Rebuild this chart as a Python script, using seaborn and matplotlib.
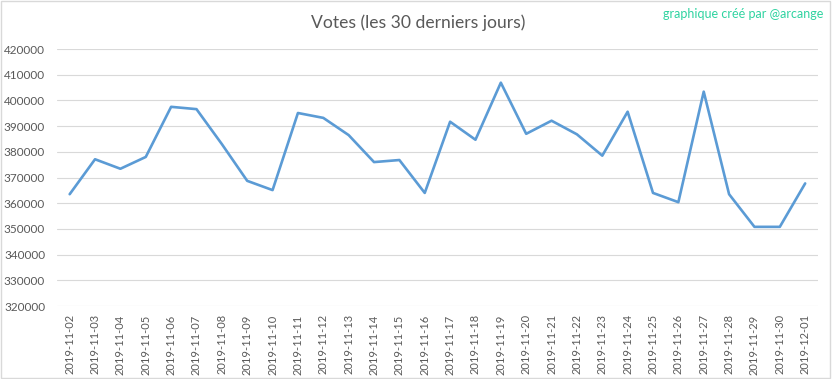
import pandas as pd
import seaborn as sns
import matplotlib.pyplot as plt
from matplotlib.patches import Rectangle

sns.set_theme(style="white")
plt.rcParams['font.family'] = ['Lato', 'DejaVu Sans']

dates = ['2019-11-02', '2019-11-03', '2019-11-04', '2019-11-05', '2019-11-06',
         '2019-11-07', '2019-11-08', '2019-11-09', '2019-11-10', '2019-11-11',
         '2019-11-12', '2019-11-13', '2019-11-14', '2019-11-15', '2019-11-16',
         '2019-11-17', '2019-11-18', '2019-11-19', '2019-11-20', '2019-11-21',
         '2019-11-22', '2019-11-23', '2019-11-24', '2019-11-25', '2019-11-26',
         '2019-11-27', '2019-11-28', '2019-11-29', '2019-11-30', '2019-12-01']
votes = [363500, 377100, 373400, 378000, 397500,
         396600, 383000, 368700, 365100, 395100,
         393200, 386500, 376000, 376800, 364000,
         391700, 384700, 406900, 387000, 392100,
         386800, 378500, 395600, 364000, 360400,
         403400, 363500, 350800, 350800, 367700]
yticks = list(range(320000, 420001, 10000))

df = pd.DataFrame({'date': dates, 'votes': votes})

fig = plt.figure(figsize=(8.32, 3.79), dpi=100)
ax = fig.add_axes([0.0685, 0.1926, 0.9145, 0.6781])

sns.lineplot(data=df, x='date', y='votes', ax=ax, color='#5B9BD5', linewidth=1.9)

ax.set_ylim(320000, 420000)
ax.set_xlim(-0.5, len(dates) - 0.5)
ax.set_yticks(yticks)
ax.set_yticklabels([str(v) for v in yticks])
ax.grid(axis='y', color='#d9d9d9', linewidth=0.8)
ax.grid(axis='x', visible=False)
ax.set_axisbelow(True)
for s in ax.spines.values():
    s.set_visible(False)
ax.tick_params(axis='y', length=0, pad=8.5, labelsize=8.5, labelcolor='#595959')
ax.tick_params(axis='x', length=0, pad=6, labelsize=8, labelcolor='#595959', rotation=90)
ax.set_xlabel('')
ax.set_ylabel('')

fig.text(0.503, 0.94, 'Votes (les 30 derniers jours)', ha='center', va='center',
         fontsize=12.6, color='#595959')
fig.text(0.99, 0.962, 'graphique créé par @arcange', ha='right', va='center',
         fontsize=9, color='#2ED3A0')

fig.patches.append(Rectangle((0.001, 0.002), 0.997, 0.995, transform=fig.transFigure,
                             fill=False, edgecolor='#d9d9d9', linewidth=1))

fig.savefig('out.png', dpi=100)
